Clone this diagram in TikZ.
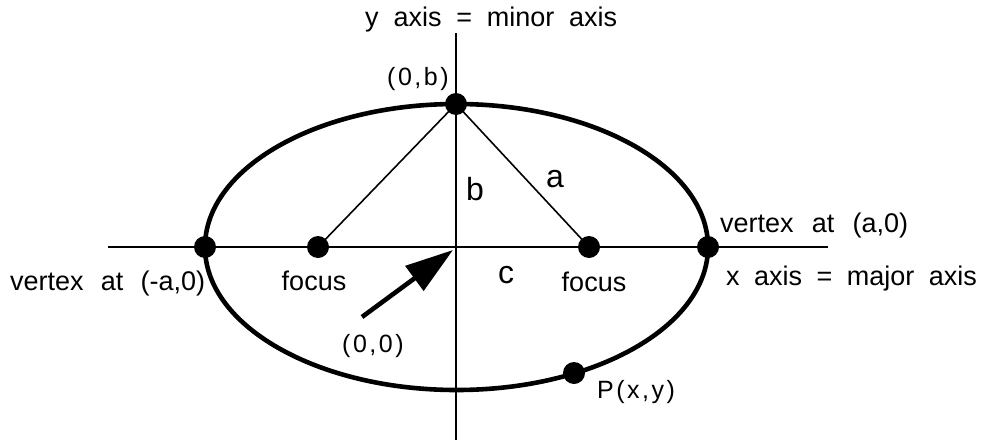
\documentclass[tikz,border=0pt]{standalone}
\usepackage{fontspec}
\setmainfont{Liberation Sans}
\newfontfamily\spacedfont[LetterSpace=10]{Liberation Sans}
\usetikzlibrary{arrows.meta}
\tikzset{
  dot/.style={circle,fill=black,inner sep=0pt,minimum size=22pt},
  axisline/.style={line width=2pt},
  focalline/.style={line width=1.6pt},
  curve/.style={line width=4.6pt},
  biglab/.style={font=\fontsize{27}{31}\selectfont,inner sep=0pt},
  letterlab/.style={font=\fontsize{32}{36}\selectfont,inner sep=0pt},
  coordlab/.style={font=\spacedfont\fontsize{25}{29}\selectfont,inner sep=0pt},
  pointer/.style={line width=4.6pt,-{Triangle[length=48pt,width=30pt]}}
}
\begin{document}
\begin{tikzpicture}[x=1pt,y=-1pt]
\useasboundingbox (0,0) rectangle (985,442);
% axes
\coordinate (xl) at (108,247);
\coordinate (xr) at (828,247);
\coordinate (yt) at (456,33);
\coordinate (yb) at (456,440);
\draw[axisline] (xl) -- (xr);
\draw[axisline] (yt) -- (yb);
% ellipse
\draw[curve] (456.5,247) ellipse [x radius=251.5pt, y radius=143pt];
% points
\node[dot] (vL) at (205,247) {};
\node[dot] (vR) at (708,247) {};
\node[dot] (F1) at (318,247) {};
\node[dot] (F2) at (589,247) {};
\node[dot] (T) at (456,104) {};
\node[dot] (P) at (574,373) {};
\draw[focalline] (F1.center) -- (T.center);
\draw[focalline] (F2.center) -- (T.center);
% arrow to origin
\coordinate (arrS) at (362,317);
\coordinate (arrE) at (453,250);
\draw[pointer] (arrS) -- (arrE);
% labels
\node[biglab,anchor=base west] (ylab) at (365,26) {y\hspace{14.8pt}axis\hspace{14.8pt}=\hspace{14.8pt}minor\hspace{14.8pt}axis};
\node[biglab,anchor=base west] (xlab) at (726,285) {x\hspace{14.5pt}axis\hspace{14.5pt}=\hspace{14.5pt}major\hspace{14.5pt}axis};
\node[biglab,anchor=base west] (vRlab) at (720,232) {vertex\hspace{18.2pt}at\hspace{18.2pt}(a,0)};
\node[biglab,anchor=base west] (vLlab) at (10,290) {vertex\hspace{17.2pt}at\hspace{17.2pt}(-a,0)};
\node[biglab,anchor=base] (f1lab) at (314,290) {focus};
\node[biglab,anchor=base] (f2lab) at (594,291) {focus};
\node[letterlab,anchor=base] (blab) at (475,200) {b};
\node[letterlab,anchor=base] (alab) at (555,187) {a};
\node[letterlab,anchor=base] (clab) at (506,283) {c};
\node[coordlab,anchor=base west] (tlab) at (387,85) {(0,b)};
\node[coordlab,anchor=base west] (olab) at (342,352) {(0,0)};
\node[coordlab,anchor=base west] (plab) at (597,398) {P(x,y)};
\end{tikzpicture}
\end{document}
